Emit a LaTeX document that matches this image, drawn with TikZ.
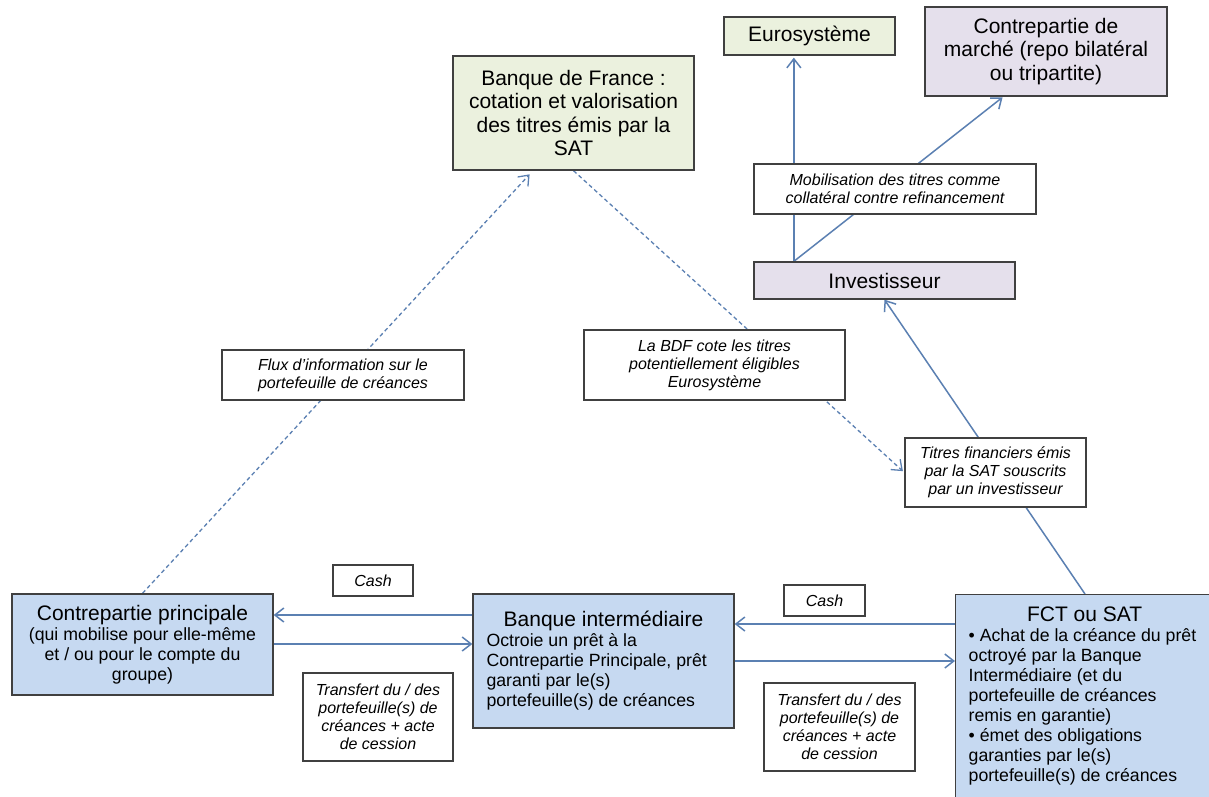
\documentclass[tikz,border=0pt]{standalone}
\usepackage{fontspec}
\setmainfont{Liberation Sans}
\usetikzlibrary{arrows.meta,backgrounds}
\definecolor{bluefill}{RGB}{198,217,241}
\definecolor{greenfill}{RGB}{235,241,222}
\definecolor{purplefill}{RGB}{229,224,236}
\definecolor{arrowcol}{RGB}{91,128,178}
\definecolor{bordercol}{RGB}{64,64,64}
\newcommand{\ftitle}{\fontsize{21}{23.5}\selectfont}
\newcommand{\fsub}{\fontsize{17.7}{20}\selectfont}
\newcommand{\flab}{\fontsize{16}{18}\selectfont\itshape}
\begin{document}
\begin{tikzpicture}[x=1pt,y=-1pt,
  box/.style={draw=bordercol, line width=1.3pt, inner sep=0pt, align=center},
  bluebox/.style={box, fill=bluefill},
  greenbox/.style={box, fill=greenfill, font=\ftitle},
  purplebox/.style={box, fill=purplefill, font=\ftitle},
  lab/.style={box, fill=white, font=\flab},
  arr/.style={draw=arrowcol, line width=1.5pt, -{Straight Barb[length=9pt,width=14pt]}},
  dasharr/.style={arr, line width=1.3pt, dash pattern=on 4pt off 3pt}]
\useasboundingbox (0,0) rectangle (1209,796);
\clip (0,0) rectangle (1209,796);

% boxes
\node[greenbox, minimum width=241pt, minimum height=114pt] (bdf) at (573.5,113)
  {Banque de France :\\cotation et valorisation\\des titres émis par la\\SAT};
\node[greenbox, minimum width=171pt, minimum height=38pt] (euro) at (809.5,36) {Eurosystème};
\node[purplebox, minimum width=242pt, minimum height=89pt] (cmarche) at (1046,51.5)
  {Contrepartie de\\marché (repo bilatéral\\ou tripartite)};
\node[lab, minimum width=282pt, minimum height=50pt] (mobil) at (895,189)
  {Mobilisation des titres comme\\collatéral contre refinancement};
\node[purplebox, minimum width=261pt, minimum height=37pt] (invest) at (884.5,280.5) {Investisseur};
\node[lab, minimum width=242pt, minimum height=50pt] (flux) at (343,375)
  {Flux d'information sur le\\portefeuille de créances};
\node[lab, minimum width=261pt, minimum height=70pt] (labdf) at (714.5,365)
  {La BDF cote les titres\\potentiellement éligibles\\Eurosystème};
\node[lab, minimum width=181pt, minimum height=69pt] (titres) at (995.5,472.5)
  {Titres financiers émis\\par la SAT souscrits\\par un investisseur};

\node[bluebox, minimum width=261pt, minimum height=101pt] (cp) at (142.5,644.5)
  {\parbox{250pt}{\centering\ftitle Contrepartie principale\par
   \fsub (qui mobilise pour elle-même\\et / ou pour le compte du\\groupe)\par}};
\node[bluebox, minimum width=261pt, minimum height=134pt] (bi) at (603.5,661)
  {\parbox{234pt}{\centering\ftitle Banque intermédiaire\par
   \raggedright\fsub Octroie un prêt à la\\Contrepartie Principale, prêt\\garanti par le(s)\\portefeuille(s) de créances\par}};
\node[bluebox, anchor=north west, inner xsep=13pt, inner ysep=12pt] (fct) at (955,594)
  {\parbox[t][205pt][t]{232pt}{\centering\ftitle FCT ou SAT\par
   \raggedright\fsub • Achat de la créance du prêt\\octroyé par la Banque\\Intermédiaire (et du\\portefeuille de créances\\remis en garantie)\\• émet des obligations\\garanties par le(s)\\portefeuille(s) de créances\par}\hspace{40pt}};

\node[lab, minimum width=80pt, minimum height=31pt] (cash1) at (373,580.5) {Cash};
\node[lab, minimum width=81pt, minimum height=31pt] (cash2) at (824.5,600.5) {Cash};
\node[lab, minimum width=150pt, minimum height=88pt] (tr1) at (378,717)
  {Transfert du / des\\portefeuille(s) de\\créances + acte\\de cession};
\node[lab, minimum width=151pt, minimum height=88pt] (tr2) at (839.5,727)
  {Transfert du / des\\portefeuille(s) de\\créances + acte\\de cession};

% helper coordinates
\coordinate (invtop) at ([xshift=40.5pt]invest.north west);
\coordinate (y615) at (0,615);
\coordinate (y644) at (0,644);
\coordinate (y624) at (0,624);
\coordinate (y661) at (0,661);

\begin{scope}[on background layer]
\fill[white] (0,0) rectangle (1209,796);
\draw[dasharr, shorten >=5pt] (cp.north) -- ([xshift=-40.5pt]bdf.south);
\draw[dasharr, shorten >=2pt] (bdf.south) -- (titres.west);
\draw[arr] ([xshift=130pt]fct.north west) -- (invest.south);
\draw[arr, shorten >=2pt] (invtop) -- (invtop |- euro.south);
\draw[arr, shorten >=1pt] (invtop) -- ([xshift=79pt]cmarche.south west);
\draw[arr] (bi.west |- y615) -- (cp.east |- y615);
\draw[arr] (cp.east |- y644) -- (bi.west |- y644);
\draw[arr] (fct.west |- y624) -- (bi.east |- y624);
\draw[arr] (bi.east |- y661) -- (fct.west |- y661);
\end{scope}
\end{tikzpicture}
\end{document}
